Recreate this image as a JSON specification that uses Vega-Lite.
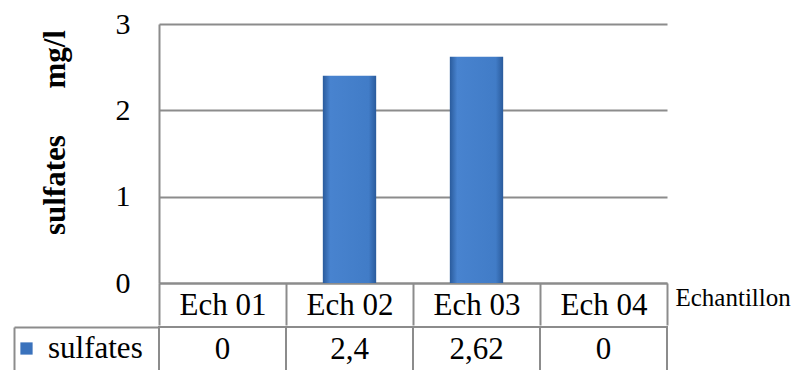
{
  "$schema": "https://vega.github.io/schema/vega-lite/v6.json",
  "background": "white",
  "padding": {"left": 11, "top": 9, "right": 0, "bottom": 0},
  "spacing": 0,
  "config": {
    "view": {"stroke": null},
    "font": "Liberation Serif",
    "axis": {"labelFont": "Liberation Serif", "titleFont": "Liberation Serif"},
    "legend": {"labelFont": "Liberation Serif"},
    "text": {"font": "Liberation Serif"},
    "locale": {"number": {"decimal": ",", "thousands": "\u00a0", "grouping": [3], "currency": ["", "\u00a0€"]}}
  },
  "data": {"values": [
    {"echantillon": "Ech 01", "sulfates": 0},
    {"echantillon": "Ech 02", "sulfates": 2.4},
    {"echantillon": "Ech 03", "sulfates": 2.62},
    {"echantillon": "Ech 04", "sulfates": 0}
  ]},
  "resolve": {"scale": {"color": "independent"}},
  "vconcat": [
    {
      "width": 508,
      "height": 259,
      "mark": {
        "type": "bar",
        "width": {"band": 0.42},
        "fill": {"gradient": "linear", "x1": 0, "x2": 1, "y1": 0, "y2": 0, "stops": [
          {"offset": 0, "color": "#2a5b9c"},
          {"offset": 0.14, "color": "#4883cf"},
          {"offset": 0.86, "color": "#417cc7"},
          {"offset": 1, "color": "#2a5b9c"}
        ]},
        "strokeWidth": 0
      },
      "encoding": {
        "x": {
          "field": "echantillon", "type": "nominal", "sort": null,
          "scale": {"paddingInner": 0, "paddingOuter": 0},
          "axis": {
            "orient": "bottom",
            "title": "Echantillon",
            "titleX": 516, "titleY": 22,
            "titleAlign": "left", "titleBaseline": "alphabetic",
            "titleFont": "Liberation Serif",
            "titleFontSize": 25, "titleFontWeight": "normal", "titleColor": "black",
            "labelFont": "Liberation Serif",
            "labelAngle": 0, "labelFontSize": 31, "labelColor": "black",
            "labelBaseline": "alphabetic", "labelPadding": -11,
            "tickSize": 42, "tickBand": "extent", "tickColor": "#8c8c8c", "tickWidth": 2,
            "domainColor": "#8c8c8c", "domainWidth": 2
          }
        },
        "y": {
          "field": "sulfates", "type": "quantitative",
          "scale": {"domain": [0, 3], "nice": false},
          "axis": {
            "values": [0, 1, 2, 3],
            "grid": true, "gridColor": "#8c8c8c", "gridWidth": 2,
            "ticks": false,
            "domainColor": "#8c8c8c", "domainWidth": 2,
            "labelFont": "Liberation Serif",
            "labelFontSize": 30, "labelColor": "black", "labelPadding": 29,
            "title": "sulfates\u00a0\u00a0\u00a0\u00a0\u00a0\u00a0mg/l",
            "titleFont": "Liberation Serif",
            "titleFontSize": 31, "titleFontWeight": "bold", "titleColor": "black",
            "titleX": -104, "titleY": 108, "titleBaseline": "middle", "titleAlign": "center", "titleAngle": -90
          }
        }
      }
    },
    {
      "width": 508,
      "height": 46,
      "layer": [
        {
          "mark": {"type": "rect", "fill": "white", "stroke": "#8c8c8c", "strokeWidth": 2},
          "encoding": {
            "x": {"field": "echantillon", "type": "nominal", "sort": null, "scale": {"paddingInner": 0, "paddingOuter": 0}, "axis": null},
            "y": {
              "datum": "sulfates", "type": "nominal",
              "scale": {"paddingInner": 0, "paddingOuter": 0},
              "axis": {
                "orient": "left", "offset": 145,
                "tickSize": -145, "tickBand": "extent", "tickColor": "#8c8c8c", "tickWidth": 2,
                "domainColor": "#8c8c8c", "domainWidth": 2,
                "labels": false, "title": null, "grid": false
              }
            }
          }
        },
        {
          "mark": {"type": "text", "font": "Liberation Serif", "fontSize": 31, "baseline": "middle", "color": "black"},
          "encoding": {
            "x": {"field": "echantillon", "type": "nominal", "sort": null},
            "y": {"datum": "sulfates", "type": "nominal"},
            "text": {"field": "sulfates", "type": "quantitative", "format": ".3~r"}
          }
        },
        {
          "mark": {"type": "point", "shape": "square", "filled": true, "size": 0, "opacity": 1},
          "encoding": {
            "color": {
              "datum": "sulfates", "type": "nominal",
              "scale": {"range": ["#3a72bc"]},
              "legend": {
                "orient": "none", "legendX": -148, "legendY": 6,
                "title": null, "symbolType": "square", "symbolSize": 150,
                "symbolOpacity": 1,
                "labelFontSize": 31, "labelFont": "Liberation Serif", "labelColor": "black",
                "labelOffset": 6, "padding": 0, "symbolStrokeWidth": 0
              }
            }
          }
        }
      ]
    }
  ]
}
